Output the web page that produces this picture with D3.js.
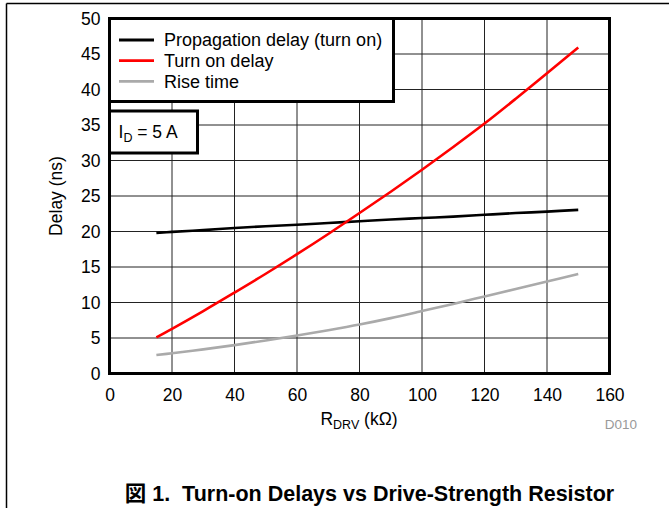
<!DOCTYPE html>
<html>
<head>
<meta charset="utf-8">
<script src="https://cdn.jsdelivr.net/npm/d3@7"></script>
<style>
  body { margin: 0; background: #fff; }
  svg { display: block; font-family: "Liberation Sans", Arial, "Noto Sans CJK JP", sans-serif; }
</style>
</head>
<body>
<div id="chart"></div>
<script>
// ---- data ----
const rdrv = [15, 20, 30, 40, 50, 60, 70, 80, 90, 100, 110, 120, 130, 140, 150];
const propagationDelay = [19.8, 19.95, 20.2, 20.5, 20.75, 20.95, 21.2, 21.45, 21.7, 21.9, 22.1, 22.35, 22.6, 22.8, 23.05];
const turnOnDelay = [5.1, 6.3, 8.8, 11.4, 14.05, 16.8, 19.65, 22.6, 25.6, 28.7, 31.9, 35.2, 38.7, 42.3, 45.9];
const riseTime = [2.6, 2.85, 3.4, 4.0, 4.65, 5.35, 6.1, 6.9, 7.8, 8.8, 9.8, 10.85, 11.9, 12.95, 14.0];
const seriesNames = ["Propagation delay (turn on)", "Turn on delay", "Rise time"];
const seriesColors = ["#000000", "#ff0000", "#aaaaaa"];
const xTicks = [0, 20, 40, 60, 80, 100, 120, 140, 160];
const yTicks = [0, 5, 10, 15, 20, 25, 30, 35, 40, 45, 50];
const yTitle = "Delay (ns)";
const caption = "図 1.\u00a0 Turn-on Delays vs Drive-Strength Resistor";

const W = 669, H = 508;
const svg = d3.select("#chart").append("svg").attr("width", W).attr("height", H);

// outer page frame (top and left)
svg.append("line").attr("x1", 6.5).attr("x2", W).attr("y1", 3.5).attr("y2", 3.5)
  .attr("stroke", "#000").attr("stroke-width", 1.5);
svg.append("line").attr("x1", 6.5).attr("x2", 6.5).attr("y1", 3.5).attr("y2", H)
  .attr("stroke", "#000").attr("stroke-width", 1.5);

const x = d3.scaleLinear().domain([0, 160]).range([109.5, 609.5]);
const y = d3.scaleLinear().domain([0, 50]).range([373.5, 18.5]);

// grid
const grid = svg.append("g");
grid.selectAll(".vg").data(xTicks).join("line")
  .attr("x1", d => x(d)).attr("x2", d => x(d)).attr("y1", y(0)).attr("y2", y(50))
  .attr("stroke", "#222").attr("stroke-width", 1);
grid.selectAll(".hg").data(yTicks).join("line")
  .attr("x1", x(0)).attr("x2", x(160)).attr("y1", d => y(d)).attr("y2", d => y(d))
  .attr("stroke", "#222").attr("stroke-width", 1);

// axes labels
const xAxis = svg.append("g").attr("transform", `translate(0,${y(0)})`)
  .call(d3.axisBottom(x).tickValues(xTicks).tickSize(0).tickPadding(15).tickFormat(d3.format("d")));
const yAxis = svg.append("g").attr("transform", `translate(${x(0)},0)`)
  .call(d3.axisLeft(y).tickValues(yTicks).tickSize(0).tickPadding(9).tickFormat(d3.format("d")));
[xAxis, yAxis].forEach(a => {
  a.select(".domain").remove();
  a.selectAll("text").attr("font-size", "17.5px").attr("fill", "#000")
    .attr("font-family", "'Liberation Sans', Arial, sans-serif");
});

// data lines
const seriesData = [propagationDelay, turnOnDelay, riseTime];
const line = d3.line().x((d, i) => x(rdrv[i])).y(d => y(d)).curve(d3.curveCatmullRom.alpha(0.5));
svg.append("g").selectAll("path").data(seriesData).join("path")
  .attr("d", d => line(d))
  .attr("fill", "none")
  .attr("stroke", (d, i) => seriesColors[i])
  .attr("stroke-width", 2.6);

// plot frame
svg.append("rect").attr("x", x(0)).attr("y", y(50)).attr("width", x(160) - x(0)).attr("height", y(0) - y(50))
  .attr("fill", "none").attr("stroke", "#000").attr("stroke-width", 3);

// legend
const lg = svg.append("g");
lg.append("rect").attr("x", x(0)).attr("y", y(50)).attr("width", 284).attr("height", 83)
  .attr("fill", "#fff").attr("stroke", "#000").attr("stroke-width", 3);
const rows = lg.selectAll(".row").data(seriesNames).join("g")
  .attr("transform", (d, i) => `translate(0,${40 + i * 20.7})`);
rows.append("line").attr("x1", 119).attr("x2", 154).attr("y1", 0).attr("y2", 0)
  .attr("stroke", (d, i) => seriesColors[i]).attr("stroke-width", 2.8);
rows.append("text").attr("x", 164).attr("y", 6.3).attr("font-size", "18px").text(d => d);

// I_D box
const ib = svg.append("g");
ib.append("rect").attr("x", x(0)).attr("y", 111).attr("width", 88).attr("height", 42)
  .attr("fill", "#fff").attr("stroke", "#000").attr("stroke-width", 3);
const it = ib.append("text").attr("x", 118.5).attr("y", 137.5).attr("font-size", "17.5px");
it.append("tspan").text("I");
it.append("tspan").attr("font-size", "12.5px").attr("dy", 4).text("D");
it.append("tspan").attr("dy", -4).text(" = 5 A");

// axis titles
svg.append("text").attr("transform", `translate(62,${(y(0) + y(50)) / 2}) rotate(-90)`)
  .attr("text-anchor", "middle").attr("font-size", "17.5px").text(yTitle);
const xt = svg.append("text").attr("x", 359).attr("y", 425).attr("text-anchor", "middle").attr("font-size", "17.5px");
xt.append("tspan").text("R");
xt.append("tspan").attr("font-size", "12.5px").attr("dy", 4).text("DRV");
xt.append("tspan").attr("dy", -4).text(" (kΩ)");

// figure id
svg.append("text").attr("x", 637).attr("y", 429).attr("text-anchor", "end")
  .attr("font-size", "13.5px").attr("fill", "#999").text("D010");

// caption
svg.append("text").attr("x", 369.5).attr("y", 501).attr("text-anchor", "middle")
  .attr("font-size", "21.5px").attr("font-weight", "bold").text(caption);
</script>
</body>
</html>
